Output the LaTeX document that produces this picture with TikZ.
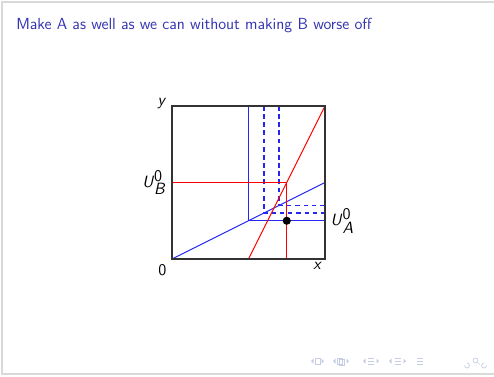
\documentclass[tikz,border=0pt]{standalone}
\usepackage{tikz}
\usetikzlibrary{positioning, calc}

\definecolor{titleblue}{rgb}{0.2,0.2,0.7}
\definecolor{navgray}{rgb}{0.78,0.80,0.90}
\definecolor{curveblue}{rgb}{0.15,0.15,0.95}
\newcommand{\sfi}[1]{\textsf{\textit{#1}}}

\begin{document}
\begin{tikzpicture}[
  x=0.735pt, y=-0.735pt,
  frameline/.style={gray!30, line width=1.5pt},
  box/.style={draw=black!80, line width=0.9pt},
  blueline/.style={color=curveblue, line width=0.8pt},
  redline/.style={color=red, line width=0.8pt},
  dashline/.style={color=curveblue, line width=1.1pt, dash pattern=on 3.5pt off 2.5pt},
  lbl/.style={font=\sffamily\fontsize{12}{14}\selectfont, inner sep=1pt},
  navicon/.style={navgray, line width=0.5pt}
]
\useasboundingbox (0,0) rectangle (494,376);

% slide frame
\draw[frameline] (494,2) -- (2,2) -- (2,374) -- (494,374);

% title
\node[anchor=base west, inner sep=0pt, text=titleblue,
      font=\sffamily\fontsize{11.8}{14}\selectfont] (title) at (16,29.5)
      {Make A as well as we can without making B worse off};

% the box
\coordinate (O) at (172,259);
\begin{scope}[shift={(O)}, x=112.46pt, y=112.46pt]
  \coordinate (ll) at (0,0);
  \coordinate (ur) at (1,1);
  \coordinate (ul) at (0,1);
  \coordinate (lr) at (1,0);
  \coordinate (bmid) at (0,0.5);
  \coordinate (amid) at (1,0.25);
  \coordinate (pA) at (0.75,0.25);

  % blue indifference curves
  \draw[blueline] (0.5,1) -- (0.5,0.25) -- (amid);
  \draw[dashline] (0.6,1) -- (0.6,0.3);
  \draw[dashline] (0.7,1) -- (0.7,0.35);
  \draw[dashline, line width=0.9pt, dashed] (0.6,0.3) -- (1,0.3);
  \draw[dashline, line width=0.9pt, dashed] (0.7,0.35) -- (1,0.35);
  \draw[blueline] (ll) -- (1,0.5);

  % red curves
  \draw[redline] (bmid) -- (0.75,0.5) -- (0.75,0);
  \draw[redline] (0.5,0) -- (ur);

  \draw[box] (ll) rectangle (ur);
  \fill (pA) circle (3pt);

  % labels
  \node[lbl, above left=-3pt and 3pt of ul] (ylab) {\sfi{y}};
  \node[lbl, below left=3pt and 3pt of ll] (zero) {0};
  \node[lbl, below left=1pt and 1pt of lr] (xlab) {\sfi{x}};
  \node[lbl, left=3pt of bmid] (ub) {\sfi{U}$^{\textsf{0}}_{\sfi{B}}$};
  \node[lbl, right=3pt of amid] (ua) {\sfi{U}$^{\textsf{0}}_{\sfi{A}}$};
\end{scope}

% navigation symbols
\foreach \lx/\rx in {311/324, 333/349, 363/379, 389/406} {
  \fill[navicon] (\lx,361) -- (\lx+2.5,358.5) -- (\lx+2.5,363.5) -- cycle;
  \fill[navicon] (\rx,361) -- (\rx-2.5,358.5) -- (\rx-2.5,363.5) -- cycle;
}
\draw[navicon] (315.5,358) rectangle (320.5,364);
\draw[navicon] (337,358) rectangle (342,364);
\draw[navicon] (339,359.5) rectangle (344,365);
\foreach \cx in {371, 397.5, 420} {
  \draw[navicon] (\cx-3,358) -- (\cx+3,358);
  \draw[navicon] (\cx-3,361) -- (\cx+3,361);
  \draw[navicon] (\cx-3,364) -- (\cx+3,364);
}
\draw[navicon] (467,363) arc (-90:180:2.5);
\draw[navicon] (475.5,360.5) circle (2.5);
\draw[navicon] (477.5,362.5) -- (479.5,364.5);
\draw[navicon] (484,363) arc (270:0:2.5);
\end{tikzpicture}
\end{document}
